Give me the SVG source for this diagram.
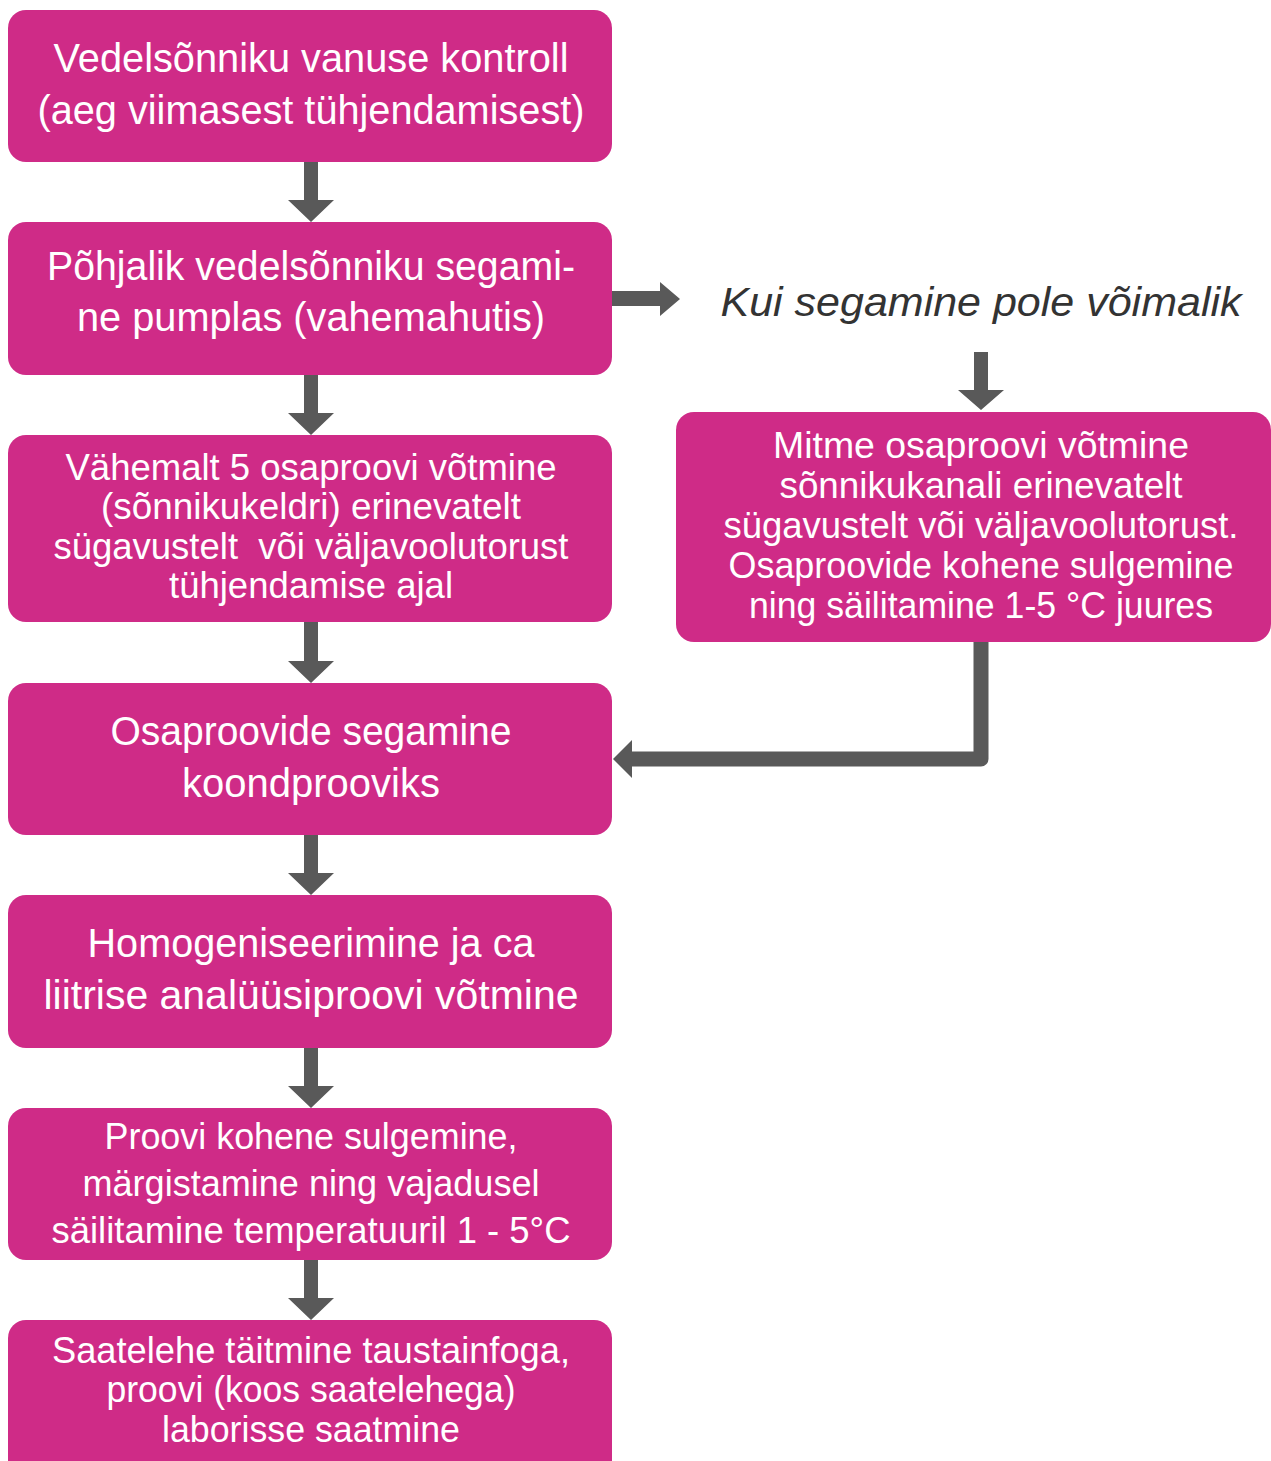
<svg xmlns="http://www.w3.org/2000/svg" width="1271" height="1461" viewBox="0 0 1271 1461">
<style>
.box{fill:#CF2B87;}
.t{fill:#FFFFFF;font-family:"Liberation Sans",Arial,sans-serif;text-anchor:middle;}
.big{font-size:41px;}
.med{font-size:36px;}
.note{fill:#333333;font-family:"Liberation Sans",Arial,sans-serif;font-style:italic;font-size:41px;text-anchor:middle;}
.arr{fill:#595959;}
.ln{fill:none;stroke:#595959;stroke-width:15;stroke-linejoin:round;}
</style>
<rect width="1271" height="1461" fill="#FFFFFF"/>
<g id="connectors">
  <polygon class="arr" points="304,162 318,162 318,200 334,200 311,222 288,200 304,200"/>
  <polygon class="arr" points="304,375 318,375 318,413 334,413 311,435 288,413 304,413"/>
  <polygon class="arr" points="304,622 318,622 318,661 334,661 311,683 288,661 304,661"/>
  <polygon class="arr" points="304,835 318,835 318,873 334,873 311,895 288,873 304,873"/>
  <polygon class="arr" points="304,1048 318,1048 318,1086 334,1086 311,1108 288,1086 304,1086"/>
  <polygon class="arr" points="304,1260 318,1260 318,1298 334,1298 311,1320 288,1298 304,1298"/>
  <polygon class="arr" points="612,291 660,291 660,282 680,299 660,316 660,306 612,306"/>
  <polygon class="arr" points="974,352 988,352 988,390 1004,390 981,410 958,390 974,390"/>
  <polyline class="ln" points="981,641 981,759 630,759"/>
  <polygon class="arr" points="613,759 632,740 632,778"/>
</g>
<g id="n1">
  <rect class="box" x="8" y="10" width="604" height="152" rx="18"/>
  <text class="t big" x="311" y="72" textLength="515" lengthAdjust="spacingAndGlyphs">Vedelsõnniku vanuse kontroll</text>
  <text class="t big" x="311" y="124" textLength="547" lengthAdjust="spacingAndGlyphs">(aeg viimasest tühjendamisest)</text>
</g>
<g id="n2">
  <rect class="box" x="8" y="222" width="604" height="153" rx="18"/>
  <text class="t big" x="311" y="280" textLength="528" lengthAdjust="spacingAndGlyphs">Põhjalik vedelsõnniku segami-</text>
  <text class="t big" x="311" y="331" textLength="468" lengthAdjust="spacingAndGlyphs">ne pumplas (vahemahutis)</text>
</g>
<g id="n3">
  <rect class="box" x="8" y="435" width="604" height="187" rx="18"/>
  <text class="t med" x="311" y="480" textLength="491" lengthAdjust="spacingAndGlyphs">Vähemalt 5 osaproovi võtmine</text>
  <text class="t med" x="311" y="519" textLength="420" lengthAdjust="spacingAndGlyphs">(sõnnikukeldri) erinevatelt</text>
  <text class="t med" x="311" y="559" textLength="515" lengthAdjust="spacingAndGlyphs" style="white-space:pre">sügavustelt  või väljavoolutorust</text>
  <text class="t med" x="311" y="598" textLength="284" lengthAdjust="spacingAndGlyphs">tühjendamise ajal</text>
</g>
<g id="n_kui">
  <text class="note" x="981" y="316" textLength="521" lengthAdjust="spacingAndGlyphs">Kui segamine pole võimalik</text>
</g>
<g id="n_right">
  <rect class="box" x="676" y="412" width="595" height="230" rx="18"/>
  <text class="t med" x="981" y="458" textLength="416" lengthAdjust="spacingAndGlyphs">Mitme osaproovi võtmine</text>
  <text class="t med" x="981" y="498" textLength="403" lengthAdjust="spacingAndGlyphs">sõnnikukanali erinevatelt</text>
  <text class="t med" x="981" y="538" textLength="515" lengthAdjust="spacingAndGlyphs">sügavustelt või väljavoolutorust.</text>
  <text class="t med" x="981" y="578" textLength="505" lengthAdjust="spacingAndGlyphs">Osaproovide kohene sulgemine</text>
  <text class="t med" x="981" y="618" textLength="464" lengthAdjust="spacingAndGlyphs">ning säilitamine 1-5 °C juures</text>
</g>
<g id="n4">
  <rect class="box" x="8" y="683" width="604" height="152" rx="18"/>
  <text class="t big" x="311" y="745" textLength="401" lengthAdjust="spacingAndGlyphs">Osaproovide segamine</text>
  <text class="t big" x="311" y="797" textLength="258" lengthAdjust="spacingAndGlyphs">koondprooviks</text>
</g>
<g id="n5">
  <rect class="box" x="8" y="895" width="604" height="153" rx="18"/>
  <text class="t big" x="311" y="957" textLength="447" lengthAdjust="spacingAndGlyphs">Homogeniseerimine ja ca</text>
  <text class="t big" x="311" y="1009" textLength="535" lengthAdjust="spacingAndGlyphs">liitrise analüüsiproovi võtmine</text>
</g>
<g id="n6">
  <rect class="box" x="8" y="1108" width="604" height="152" rx="18"/>
  <text class="t med" x="311" y="1149" textLength="413" lengthAdjust="spacingAndGlyphs">Proovi kohene sulgemine,</text>
  <text class="t med" x="311" y="1196" textLength="457" lengthAdjust="spacingAndGlyphs">märgistamine ning vajadusel</text>
  <text class="t med" x="311" y="1243" textLength="519" lengthAdjust="spacingAndGlyphs">säilitamine temperatuuril 1 - 5°C</text>
</g>
<g id="n7">
  <rect class="box" x="8" y="1320" width="604" height="170" rx="18"/>
  <text class="t med" x="311" y="1363" textLength="518" lengthAdjust="spacingAndGlyphs">Saatelehe täitmine taustainfoga,</text>
  <text class="t med" x="311" y="1402" textLength="409" lengthAdjust="spacingAndGlyphs">proovi (koos saatelehega)</text>
  <text class="t med" x="311" y="1442" textLength="298" lengthAdjust="spacingAndGlyphs">laborisse saatmine</text>
</g>
</svg>
